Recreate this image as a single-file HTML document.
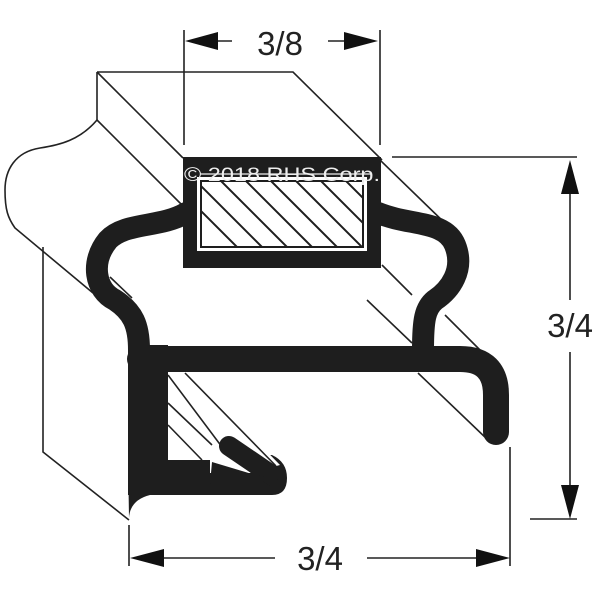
<!DOCTYPE html>
<html><head><style>
html,body{margin:0;padding:0;background:#fff;width:600px;height:600px;overflow:hidden}
svg{display:block}
text{font-family:"Liberation Sans",sans-serif}
</style></head><body>
<svg width="600" height="600" viewBox="0 0 600 600" xmlns="http://www.w3.org/2000/svg">
<g fill="none" stroke="#222" stroke-width="1.6">
  <path d="M97,72 L293,72 L382,160"/>
  <path d="M97,72 L183,158"/>
  <path d="M97,72 L97,120"/>
  <path d="M97,120 L183,206"/>
  <path d="M97,120 C80,140 60,145 40,148 C15,152 5,170 5,190 C5,210 8,218 15,228 L93,293"/>
  <path d="M110,277 L132,298"/>
  <path d="M43,247 L43,452 L129,520"/>
  <path d="M367,300 L412,343"/>
  <path d="M418,373 L488,440"/>
  <path d="M382,265 L412,295"/>
  <path d="M445,315 L480,350"/>
  <path d="M380,160 L450,228"/>
  <path d="M184,30 L184,145 M380,30 L380,145 M218,41 L232,41 M328,41 L344,41"/>
  <path d="M392,157 L577,157 M530,519 L577,519 M570,190 L570,300 M570,352 L570,488"/>
  <path d="M129,525 L129,566 M510,447 L510,566 M160,558 L275,558 M367,558 L478,558"/>
</g>
<g fill="#111">
  <polygon points="185,41 218,32 218,50"/>
  <polygon points="378,41 344,32 344,50"/>
  <polygon points="570,160 561,194 579,194"/>
  <polygon points="570,519 561,485 579,485"/>
  <polygon points="130,558 164,549 164,567"/>
  <polygon points="510,558 476,549 476,567"/>
</g>
<g fill="none" stroke="#1e1e1e" stroke-width="22" stroke-linecap="round" stroke-linejoin="round">
  <path d="M186,213 C160,228 125,222 108,240 C90,262 95,290 115,300 C133,312 139,325 139,350"/>
  <path d="M378,213 C410,226 445,220 455,245 C465,270 450,290 435,300 C425,308 423,320 423,350"/>
  <path d="M140,359 L460,359 Q496,359 496,395 L496,432" stroke-width="26"/>
</g>
<g fill="#1e1e1e">
  <rect x="128" y="345" width="40" height="150"/>
  <path d="M128,455 L272,455 Q287,462 287,478 Q287,495 272,495 L150,495 Q130,500 129,518 Z"/>
</g>
<g fill="#fff">
  <rect x="168" y="373" width="42" height="87"/>
  <polygon points="168,373 190,373 280,465 250,473 210,473 210,460 168,460"/>
</g>
<g fill="none" stroke="#222" stroke-width="1.6">
  <path d="M168,375 L222,447"/>
  <path d="M185,373 L276,466"/>
  <path d="M168,403 L212,445"/>
  <path d="M168,425 L202,460"/>
</g>
<path d="M229,446 L276,478" stroke="#1e1e1e" stroke-width="20" stroke-linecap="round"/>
<path d="M212,462 L252,474 L280,480 L210,484 Z" fill="#1e1e1e"/>
<rect x="183" y="157" width="198" height="111" fill="#1e1e1e"/>
<rect x="197" y="177" width="170" height="74" fill="#fff"/>
<rect x="201" y="181" width="162" height="66" fill="#fff" stroke="#1e1e1e" stroke-width="2"/>
<clipPath id="c"><rect x="202" y="182" width="160" height="64"/></clipPath>
<g clip-path="url(#c)" stroke="#1e1e1e" stroke-width="2">
  <path d="M140,150 L250,260 M165,150 L275,260 M190,150 L300,260 M215,150 L325,260 M240,150 L350,260 M265,150 L375,260 M290,150 L400,260 M315,150 L425,260 M340,150 L450,260"/>
</g>
<text x="184" y="181" font-size="19" fill="#eee" textLength="196" lengthAdjust="spacingAndGlyphs">© 2018 RHS Corp.</text>
<line x1="200" y1="174" x2="372" y2="174" stroke="#eee" stroke-width="1.2"/>
<text x="280" y="55" font-size="33" text-anchor="middle" fill="#222">3/8</text>
<text x="570" y="337" font-size="33" text-anchor="middle" fill="#222">3/4</text>
<text x="320" y="570" font-size="33" text-anchor="middle" fill="#222">3/4</text>
</svg>
</body></html>
